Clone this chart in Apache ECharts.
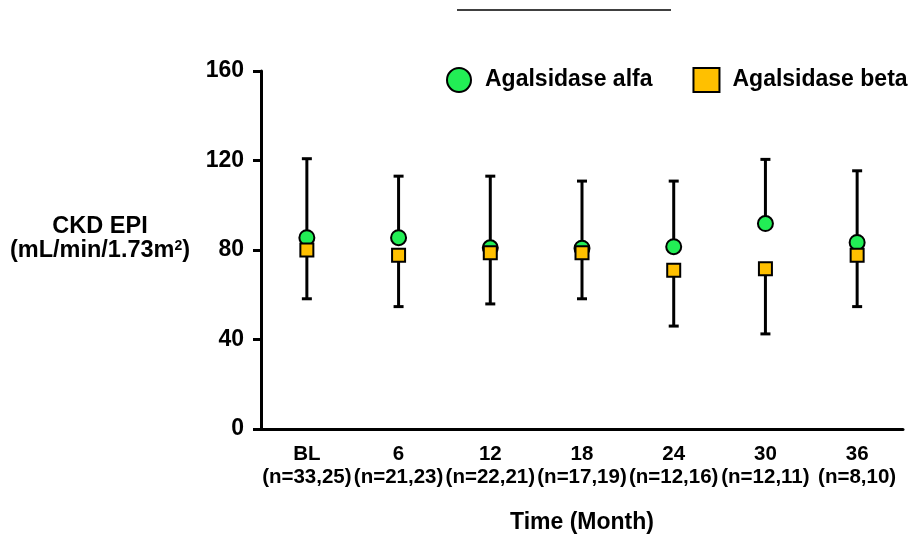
<!DOCTYPE html>
<html>
<head>
<meta charset="utf-8">
<script src="https://cdn.jsdelivr.net/npm/echarts@6/dist/echarts.min.js"></script>
<style>
  html, body { margin: 0; padding: 0; background: #fff; }
  #chart { width: 912px; height: 536px; }
</style>
</head>
<body>
<div id="chart"></div>
<script>
  // time points and group sizes (alfa, beta)
  const months = ['BL', '6', '12', '18', '24', '30', '36'];
  const nCounts = ['n=33,25', 'n=21,23', 'n=22,21', 'n=17,19', 'n=12,16', 'n=12,11', 'n=8,10'];

  // CKD EPI mean and SD
  const alfaMean = [85.5, 85.5, 81, 80.8, 81.5, 91.8, 83.4];
  const alfaSD = [35.3, 27.5, 32, 30, 29.3, 28.7, 32];
  const betaMean = [80, 77.6, 78.8, 78.8, 71, 71.6, 77.6];
  const betaSD = [21.8, 22.9, 22.9, 20.6, 25, 29.1, 22.9];

  const yTicks = { min: 0, max: 160, interval: 40 };

  const font = 'Liberation Sans, Arial, sans-serif';
  const green = '#22ee55';
  const orange = '#ffc000';

  const categories = months.map((m, i) => m + '\n(' + nCounts[i] + ')');

  // alfa bar goes up, beta bar goes down (as in the original figure)
  const alfaErr = alfaMean.map((v, i) => [i, v, v + alfaSD[i]]);
  const betaErr = betaMean.map((v, i) => [i, v, v - betaSD[i]]);

  function renderErr(params, api) {
    const p0 = api.coord([api.value(0), api.value(1)]);
    const p1 = api.coord([api.value(0), api.value(2)]);
    const cap = 5;
    const style = { stroke: '#000', lineWidth: 3 };
    return {
      type: 'group',
      children: [
        { type: 'line', shape: { x1: p0[0], y1: p0[1], x2: p1[0], y2: p1[1] }, style },
        { type: 'line', shape: { x1: p1[0] - cap, y1: p1[1], x2: p1[0] + cap, y2: p1[1] }, style }
      ]
    };
  }

  const chart = echarts.init(document.getElementById('chart'));
  chart.setOption({
    animation: false,
    backgroundColor: '#fff',
    textStyle: { fontFamily: font },
    grid: { left: 261, right: 9, top: 71, bottom: 107, outerBoundsMode: 'none', containLabel: false },
    legend: {
      data: [
        { name: 'Agalsidase alfa', icon: 'circle' },
        { name: 'Agalsidase beta', icon: 'rect' }
      ],
      left: 446, top: 67, width: 466,
      padding: 0,
      itemWidth: 26, itemHeight: 24,
      itemGap: 40,
      textStyle: { fontSize: 23, fontWeight: 'bold', color: '#000', fontFamily: font, padding: [0, 0, 0, 8] }
    },
    graphic: [
      { type: 'line', shape: { x1: 457, y1: 10, x2: 671, y2: 10 }, style: { stroke: '#000', lineWidth: 1.5 } },
      {
        type: 'text', x: 100, y: 239,
        style: {
          text: 'CKD EPI\n(mL/min/1.73m{sup|2})',
          align: 'center',
          verticalAlign: 'middle',
          font: 'bold 23.5px ' + font,
          fill: '#000',
          lineHeight: 24,
          rich: { sup: { fontSize: 14, fontWeight: 'bold', verticalAlign: 'top', padding: [0, 0, 9, 0] } }
        }
      }
    ],
    xAxis: {
      type: 'category',
      data: categories,
      name: 'Time (Month)',
      nameLocation: 'middle',
      nameGap: 82,
      nameTextStyle: { fontSize: 23, fontWeight: 'bold', color: '#000' },
      axisLine: { lineStyle: { color: '#000', width: 3 } },
      axisTick: { alignWithLabel: true, length: 8, lineStyle: { color: '#000', width: 3 } },
      axisLabel: { margin: 14, fontSize: 20.5, fontWeight: 'bold', color: '#000', lineHeight: 23, interval: 0 },
      splitLine: { show: false }
    },
    yAxis: {
      type: 'value',
      min: yTicks.min, max: yTicks.max, interval: yTicks.interval,
      axisLine: { show: true, lineStyle: { color: '#000', width: 3 } },
      axisTick: { show: true, length: 8, lineStyle: { color: '#000', width: 3 } },
      axisLabel: { margin: 17, fontSize: 23, fontWeight: 'bold', color: '#000' },
      splitLine: { show: false }
    },
    series: [
      {
        name: 'alfa SD', type: 'custom', renderItem: renderErr,
        data: alfaErr, encode: { x: 0, y: [1, 2] }, z: 1, silent: true
      },
      {
        name: 'beta SD', type: 'custom', renderItem: renderErr,
        data: betaErr, encode: { x: 0, y: [1, 2] }, z: 1, silent: true
      },
      {
        name: 'Agalsidase alfa', type: 'scatter', symbol: 'circle', symbolSize: 15,
        data: alfaMean, z: 3,
        itemStyle: { color: green, borderColor: '#000', borderWidth: 2, opacity: 1 }
      },
      {
        name: 'Agalsidase beta', type: 'scatter', symbol: 'rect', symbolSize: 13,
        data: betaMean, z: 4,
        itemStyle: { color: orange, borderColor: '#000', borderWidth: 2, opacity: 1 }
      }
    ]
  });
</script>
</body>
</html>
